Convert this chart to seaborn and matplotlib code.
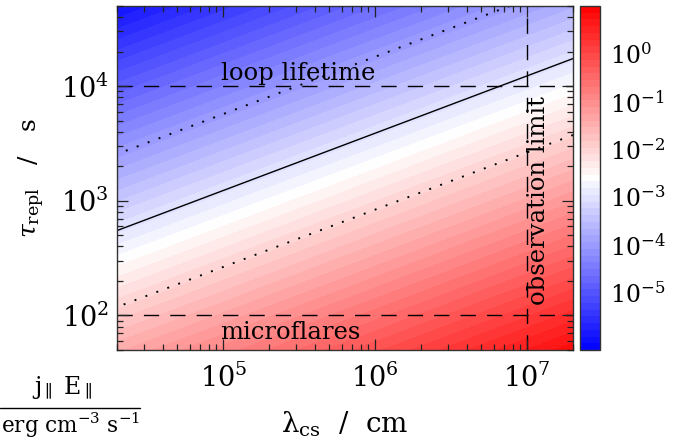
import numpy as np
import matplotlib
matplotlib.use("Agg")
import matplotlib.pyplot as plt
from matplotlib.lines import Line2D
from matplotlib.ticker import LogLocator, NullFormatter, FixedLocator, FixedFormatter
import seaborn as sns

# Plot extents
lam_range = [2.0e4, 2.0e7]      # current-sheet width, cm
tau_range = [50.0, 5.0e4]       # replenishment time, s

# Power-law heating model: log10(jE) = log_norm + lam_exp*log10(lam) + tau_exp*log10(tau)
log_norm = -2.115
lam_exp = 0.75
tau_exp = -1.5

# Colour scale (log10 of heating rate) and banding
cbar_range = [-6.2, 1.0]
n_bands = 51
cbar_ticks = [-5, -4, -3, -2, -1, 0]

# Reference heating-rate contours
contour_levels = [-4.0, -3.0, -2.0]
contour_styles = [(0, (1, 5)), "solid", (0, (1, 5))]

# Observational limits
loop_lifetime = 1.0e4
microflare_time = 1.0e2
observation_limit = 1.0e7

sns.set_theme(style="ticks")
plt.rcParams["font.family"] = ["DejaVu Serif", "DejaVu Sans"]
plt.rcParams["mathtext.fontset"] = "dejavuserif"
plt.rcParams["text.color"] = "black"
plt.rcParams["axes.labelcolor"] = "black"
plt.rcParams["xtick.color"] = "black"
plt.rcParams["ytick.color"] = "black"

fig = plt.figure(figsize=(6.81, 4.43), dpi=100)
ax = fig.add_axes([117 / 681, 93 / 443, 456 / 681, 344 / 443])
cax = fig.add_axes([580 / 681, 93 / 443, 20 / 681, 344 / 443])
ax.set_axisbelow(False)

lam = np.logspace(np.log10(lam_range[0]), np.log10(lam_range[1]), 400)
tau = np.logspace(np.log10(tau_range[0]), np.log10(tau_range[1]), 400)
L, T = np.meshgrid(lam, tau)
Z = log_norm + lam_exp * np.log10(L) + tau_exp * np.log10(T)

cmap = sns.color_palette("bwr", as_cmap=True)
levels = np.linspace(cbar_range[0], cbar_range[1], n_bands + 1)
cs = ax.contourf(L, T, Z, levels=levels, cmap=cmap, vmin=cbar_range[0], vmax=cbar_range[1])

for lev, ls in zip(contour_levels, contour_styles):
    lw = 1.0 if ls == "solid" else 1.4
    ax.contour(L, T, Z, levels=[lev], colors="black", linewidths=lw, linestyles=[ls])

dash = (0, (11, 8))
ax.axhline(loop_lifetime, color="black", lw=1.0, ls=dash)
ax.axhline(microflare_time, color="black", lw=1.0, ls=dash)
ax.axvline(observation_limit, color="black", lw=1.0, ls=dash)

ax.set_xscale("log")
ax.set_yscale("log")
ax.set_xlim(*lam_range)
ax.set_ylim(*tau_range)

ax.text(9.6e4, 1.3e4, "loop lifetime", fontsize=17.5, ha="left", va="center")
ax.text(9.6e4, 71, "microflares", fontsize=17.5, ha="left", va="center")
ax.text(1.18e7, 1.0e3, "observation limit", fontsize=17.5, ha="center", va="center",
        rotation=90)

ax.xaxis.set_major_locator(FixedLocator([1e5, 1e6, 1e7]))
ax.xaxis.set_major_formatter(FixedFormatter([r"$10^{5}$", r"$10^{6}$", r"$10^{7}$"]))
ax.yaxis.set_major_locator(FixedLocator([1e2, 1e3, 1e4]))
ax.yaxis.set_major_formatter(FixedFormatter([r"$10^{2}$", r"$10^{3}$", r"$10^{4}$"]))
for axis in (ax.xaxis, ax.yaxis):
    axis.set_minor_locator(LogLocator(base=10, subs=np.arange(2, 10), numticks=20))
    axis.set_minor_formatter(NullFormatter())

ax.tick_params(which="both", direction="in", top=True, right=True, color="#222222",
               width=0.9, labelsize=19.5)
ax.tick_params(which="major", length=8)
ax.tick_params(axis="y", which="major", pad=6)
ax.tick_params(axis="x", which="major", pad=10)
ax.tick_params(which="minor", length=4)
for sp in ax.spines.values():
    sp.set_color("#333333")
    sp.set_linewidth(1.0)

ax.set_xlabel(r"λ$_{\rm cs}$  /  cm", fontsize=20, labelpad=12)
ax.set_ylabel(r"$\tau_{\rm repl}$   /   s", fontsize=18, labelpad=10)

cbar = fig.colorbar(cs, cax=cax)
cbar.set_ticks(cbar_ticks)
cbar.set_ticklabels([rf"$10^{{{t}}}$" for t in cbar_ticks])
cbar.ax.tick_params(length=0, labelsize=17, pad=7)
cbar.outline.set_edgecolor("#333333")
cbar.outline.set_linewidth(1.0)

# Colour-bar quantity written as a fraction below the colour scale
fig.text(62 / 681, 1 - 388 / 443, r"j$_\parallel$ E$_\parallel$", fontsize=17,
         ha="center", va="center")
fig.add_artist(Line2D([0, 140 / 681], [1 - 408 / 443] * 2, color="black", lw=1.0,
                      transform=fig.transFigure))
fig.text(71 / 681, 1 - 425 / 443, r"erg cm$^{-3}$ s$^{-1}$", fontsize=15.5,
         ha="center", va="center")

fig.savefig("out.png", dpi=100)
